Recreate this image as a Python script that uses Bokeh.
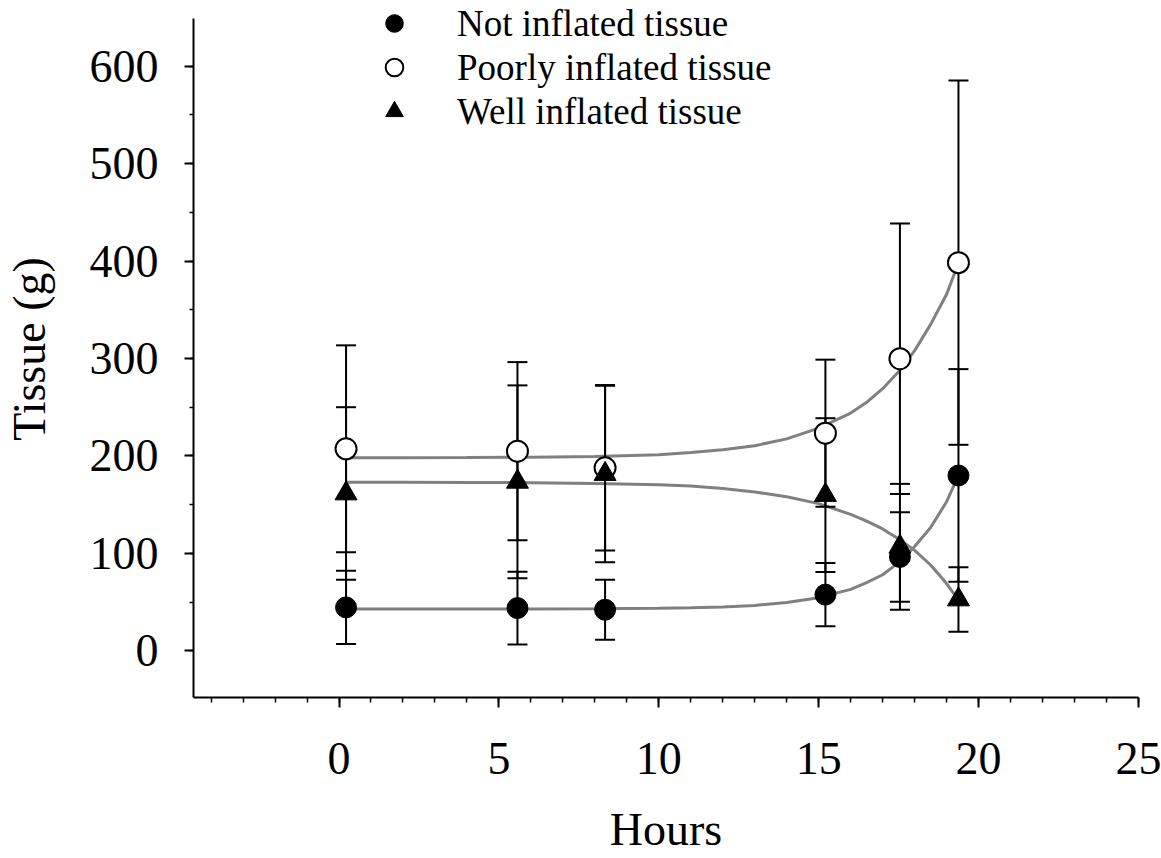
from bokeh.plotting import figure
from bokeh.models import Range1d, SingleIntervalTicker, Legend, LegendItem
from bokeh.embed import file_html
from bokeh.resources import INLINE

# ---- data ----
hours = [0.22, 5.58, 8.32, 15.21, 17.54, 19.37]

not_inflated = [44.5, 43.8, 42.1, 57.6, 96.3, 179.9]
not_inflated_err = [37.7, 37.3, 30.8, 32.4, 45.9, 109.2]

poorly_inflated = [207.3, 204.8, 187.8, 223.3, 299.8, 398.4]
poorly_inflated_err = [106.2, 91.5, 85.0, 75.5, 138.9, 187.0]

well_inflated = [161.4, 173.4, 181.4, 159.8, 106.7, 52.6]
well_inflated_err = [88.6, 99.0, 90.6, 78.9, 64.6, 33.0]

# fitted curves
fit_hours = [0.22, 2, 4, 6, 8, 10, 11, 12, 13, 14, 15, 16, 16.5, 17, 17.54, 18, 18.5, 19, 19.37]
not_fit = [42.8, 42.8, 42.8, 42.9, 43.1, 43.6, 44.2, 45.0, 46.5, 49.5, 54.5, 63, 70, 78, 91.5, 107, 126.5, 153, 180]
poorly_fit = [198, 198, 198.3, 198.7, 199.5, 201.3, 203.5, 206.3, 210.5, 217.5, 228.5, 244, 255, 269, 288, 308, 335, 366, 398]
well_fit = [173, 173, 172.8, 172.5, 171.8, 170.5, 169, 166.5, 163, 158, 151, 140, 133, 125, 114, 103, 88, 69, 52]

labels = ["Not inflated tissue", "Poorly inflated tissue", "Well inflated tissue"]
x_title = "Hours"
y_title = "Tissue (g)"
x_ticks_interval = 5
y_ticks_interval = 100
y_axis_bounds = (-48, 649.5)

FONT = "Liberation Serif"

p = figure(width=1161, height=858, output_backend="svg", toolbar_location=None,
           x_range=Range1d(-4.55, 25), y_range=Range1d(-48, 667.5),
           min_border_left=190, min_border_right=23, min_border_top=0, min_border_bottom=161)
p.outline_line_color = None
p.grid.visible = False
p.background_fill_color = "white"
p.border_fill_color = "white"

# curves
for fy in (poorly_fit, well_fit, not_fit):
    p.line(fit_hours, fy, line_color="#808080", line_width=3)

# error bars
for ys, es in ((not_inflated, not_inflated_err), (poorly_inflated, poorly_inflated_err), (well_inflated, well_inflated_err)):
    lo = [y - e for y, e in zip(ys, es)]
    hi = [y + e for y, e in zip(ys, es)]
    p.segment(x0=hours, y0=lo, x1=hours, y1=hi, line_color="black", line_width=2)
    p.scatter(hours, lo, marker="dash", size=20, line_color="black", line_width=2)
    p.scatter(hours, hi, marker="dash", size=20, line_color="black", line_width=2)

r_open = p.scatter(hours, poorly_inflated, marker="circle", size=21, fill_color="white", line_color="black", line_width=2)
r_tri = p.scatter(hours, well_inflated, marker="triangle", size=22, fill_color="black", line_color="black", line_width=1)
r_fill = p.scatter(hours, not_inflated, marker="circle", size=21, fill_color="black", line_color="black", line_width=1)

# axes
p.xaxis.ticker = SingleIntervalTicker(interval=x_ticks_interval, num_minor_ticks=5)
p.yaxis.ticker = SingleIntervalTicker(interval=y_ticks_interval, num_minor_ticks=2)
p.yaxis.bounds = y_axis_bounds
p.xaxis.axis_label = x_title
p.yaxis.axis_label = y_title
for ax in (p.xaxis[0], p.yaxis[0]):
    ax.axis_line_color = "black"
    ax.axis_line_width = 2
    ax.major_tick_line_color = "black"
    ax.major_tick_line_width = 2
    ax.minor_tick_line_color = "black"
    ax.minor_tick_line_width = 1.5
    ax.major_tick_in = 0
    ax.minor_tick_in = 0
    ax.major_label_text_font = FONT
    ax.major_label_text_font_size = "46px"
    ax.major_label_text_color = "black"
    ax.axis_label_text_font = FONT
    ax.axis_label_text_font_size = "46px"
    ax.axis_label_text_font_style = "normal"
    ax.axis_label_text_color = "black"

p.xaxis.major_tick_out = 10
p.xaxis.minor_tick_out = 5
p.xaxis.major_label_standoff = 35
p.xaxis.axis_label_standoff = 27
p.yaxis.major_tick_out = 9
p.yaxis.minor_tick_out = 4
p.yaxis.major_label_standoff = 26
p.yaxis.major_label_orientation = "horizontal"
p.yaxis.axis_label_standoff = 32

legend = Legend(items=[LegendItem(label=labels[0], renderers=[r_fill]),
                       LegendItem(label=labels[1], renderers=[r_open]),
                       LegendItem(label=labels[2], renderers=[r_tri])],
                location=(175, 564), border_line_color=None, background_fill_alpha=0,
                label_text_font=FONT, label_text_font_size="37px", label_text_color="black",
                glyph_width=52, glyph_height=44, spacing=0, padding=0, margin=0,
                label_standoff=37)
p.add_layout(legend)

open("out.html", "w").write(file_html(p, INLINE))
